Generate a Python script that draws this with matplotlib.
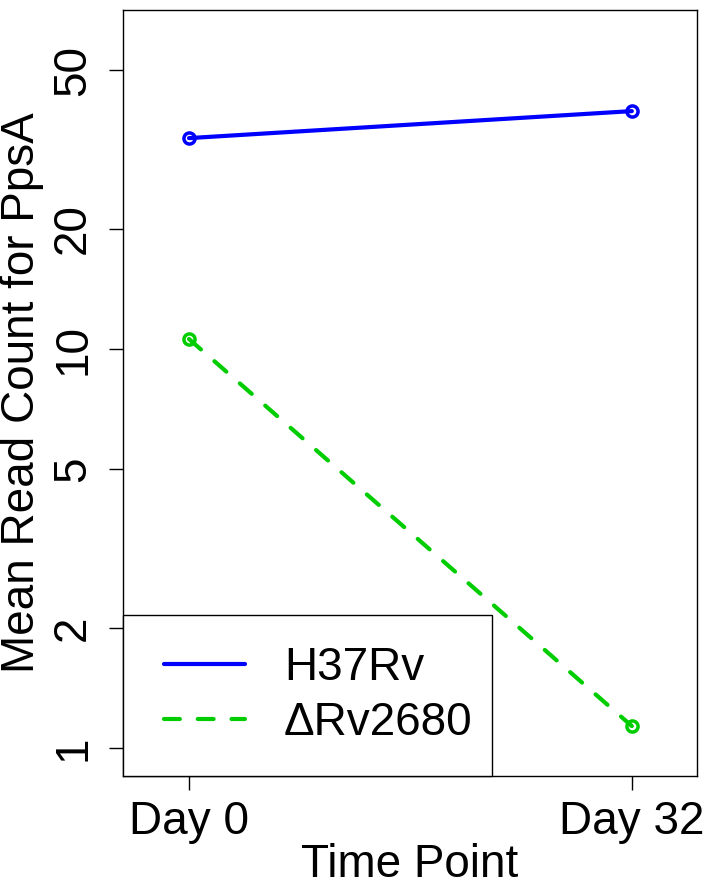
import matplotlib
matplotlib.use("Agg")
import matplotlib.pyplot as plt
from matplotlib.legend_handler import HandlerLine2D

# ── Data ──────────────────────────────────────────────────────────────────────
time_points = ["Day 0", "Day 32"]
x_pos = [1, 2]
h37rv = [33.8, 39.5]
delta_rv2680 = [10.6, 1.135]
y_ticks = [1, 2, 5, 10, 20, 50]

FS = 33
plt.rcParams["font.family"] = ["Liberation Sans", "DejaVu Sans"]

fig = plt.figure(figsize=(7.09, 8.86), dpi=100)
ax = fig.add_axes([0.1735, 0.1242, 0.8095, 0.8645])

common = dict(lw=3, marker="o", markersize=8, markerfacecolor="none",
              markeredgewidth=2.5, solid_capstyle="round", dash_capstyle="round")
ax.plot(x_pos, h37rv, color="#0000FF", label="H37Rv", **common)
ax.plot(x_pos, delta_rv2680, color="#00CD00", label="\u0394Rv2680",
        dashes=(3.8, 4.3), **common)

ax.set_yscale("log")
ax.set_xlim(0.851, 2.147)
ax.set_ylim(0.851, 70.8)
ax.set_yticks(y_ticks)
ax.set_yticklabels([str(v) for v in y_ticks], rotation=90, va="center")
ax.minorticks_off()
ax.set_xticks(x_pos)
ax.set_xticklabels(time_points)
ax.tick_params(labelsize=FS, length=10, width=1)
ax.tick_params(axis="x", pad=7)
ax.tick_params(axis="y", pad=10)

ax.set_xlabel("Time Point", fontsize=FS, va="top")
ax.xaxis.set_label_coords(0.5, -0.087)
ax.set_ylabel("Mean Read Count for PpsA", fontsize=FS)
ax.yaxis.set_label_coords(-0.137, 0.5)

for s in ax.spines.values():
    s.set_linewidth(1)

leg = ax.legend(loc="lower left", bbox_to_anchor=(0, 0, 0.643, 0.214),
                mode="expand", borderaxespad=0, fontsize=FS, fancybox=False,
                edgecolor="black", framealpha=1, handlelength=1.98,
                handletextpad=0.85, borderpad=0.68, labelspacing=0.24,
                handler_map={plt.Line2D: HandlerLine2D(xpad=0.22)})
leg.get_frame().set_linewidth(1)
for h in leg.get_lines():
    h.set_marker("")

fig.savefig("out.png", dpi=100)
